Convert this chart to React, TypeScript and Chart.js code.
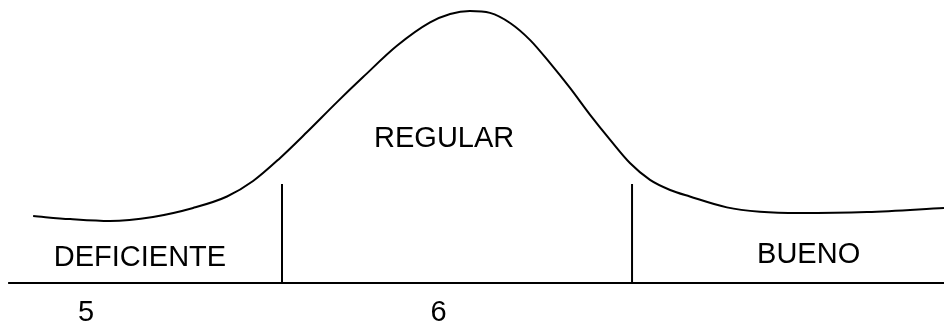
import React, { useEffect, useRef } from "react";
import { Chart, registerables } from "chart.js";

Chart.register(...registerables);

// Curve (normalized density, peak = 1) over the score axis
const curveX = [4.85, 4.955, 5.068, 5.19, 5.304, 5.4, 5.474, 5.55, 5.627, 5.712, 5.786, 5.882, 5.976, 6.033, 6.089, 6.146, 6.203, 6.26, 6.316, 6.373, 6.43, 6.487, 6.543, 6.6, 6.657, 6.713, 6.818, 6.912, 7.025, 7.216, 7.434];
const curveY = [0.246, 0.235, 0.228, 0.243, 0.276, 0.318, 0.375, 0.459, 0.555, 0.665, 0.757, 0.872, 0.958, 0.989, 1.0, 0.993, 0.956, 0.893, 0.809, 0.717, 0.618, 0.526, 0.441, 0.379, 0.342, 0.318, 0.278, 0.262, 0.257, 0.261, 0.276];

// Cut points separating the categories
const cutX = [5.556, 6.549];
const cutTop = 0.364;

// Baseline extent
const baseX = [4.779, 7.434];

// Category labels
const categories = ["DEFICIENTE", "REGULAR", "BUENO"];
const categoryX = [5.153, 6.016, 7.05];
const categoryY = [0.0625, 0.5, 0.0735];

// Tick labels
const tickValues = [5, 6];
const tickLabels = ["5", "6"];
const tickY = -0.14;

const X_MIN = 4.756;
const X_MAX = 7.434;
const Y_MIN = -0.158;
const Y_MAX = 1.0404;

const textPlugin = {
  id: "textLabels",
  afterDatasetsDraw(chart: any) {
    const { ctx, scales } = chart;
    const xs = scales.x;
    const ys = scales.y;
    ctx.save();
    ctx.fillStyle = "#000";
    ctx.font = "29px 'Liberation Sans', Arial, sans-serif";
    ctx.textAlign = "center";
    ctx.textBaseline = "alphabetic";
    categories.forEach((c, i) => {
      ctx.fillText(c, xs.getPixelForValue(categoryX[i]), ys.getPixelForValue(categoryY[i]));
    });
    tickValues.forEach((v, i) => {
      ctx.fillText(tickLabels[i], xs.getPixelForValue(v), ys.getPixelForValue(tickY));
    });
    ctx.restore();
  },
};

export default function App() {
  const ref = useRef<HTMLCanvasElement | null>(null);
  useEffect(() => {
    if (!ref.current) return;
    const lineStyle = {
      borderColor: "#000",
      borderWidth: 2,
      pointRadius: 0,
      fill: false,
      tension: 0,
    };
    const chart = new Chart(ref.current, {
      type: "line",
      data: {
        datasets: [
          {
            ...lineStyle,
            data: curveX.map((x, i) => ({ x, y: curveY[i] })),
            cubicInterpolationMode: "monotone",
          },
          {
            ...lineStyle,
            data: baseX.map((x) => ({ x, y: 0 })),
          },
          {
            ...lineStyle,
            data: [
              { x: cutX[0], y: 0 },
              { x: cutX[0], y: cutTop },
            ],
          },
          {
            ...lineStyle,
            data: [
              { x: cutX[1], y: 0 },
              { x: cutX[1], y: cutTop },
            ],
          },
        ],
      } as any,
      options: {
        animation: false,
        responsive: false,
        layout: { padding: 0 },
        plugins: { legend: { display: false }, tooltip: { enabled: false } },
        scales: {
          x: { type: "linear", min: X_MIN, max: X_MAX, display: false },
          y: { type: "linear", min: Y_MIN, max: Y_MAX, display: false },
        },
      } as any,
      plugins: [textPlugin],
    });
    return () => chart.destroy();
  }, []);
  return (
    <div style={{ position: "fixed", left: 0, top: 0, width: 944, height: 326, background: "#fff" }}>
      <canvas ref={ref} width={944} height={326} />
    </div>
  );
}
